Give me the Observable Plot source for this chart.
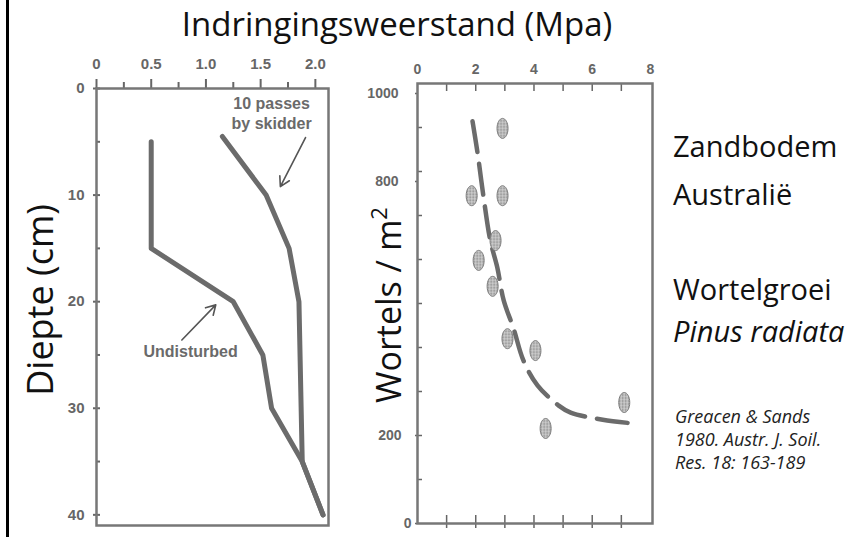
<!DOCTYPE html>
<html><head><meta charset="utf-8">
<script src="https://cdn.jsdelivr.net/npm/d3@7"></script>
<script src="https://cdn.jsdelivr.net/npm/@observablehq/plot@0.6"></script>
<style>
html,body{margin:0;padding:0;background:#fff;}
#wrap{position:relative;width:861px;height:537px;overflow:hidden;background:#fff;}
#wrap > svg{position:absolute;top:0;}
</style></head><body><div id="wrap"></div>
<script>
// ---- Left panel data: penetration resistance (MPa) vs depth (cm)
const undisturbedDepth = [5, 15, 20, 25, 30, 35, 40];
const undisturbedMpa   = [0.5, 0.5, 1.25, 1.52, 1.6, 1.88, 2.07];
const skidderDepth = [4.5, 10, 15, 20, 25, 30, 35, 40];
const skidderMpa   = [1.15, 1.55, 1.76, 1.85, 1.86, 1.87, 1.88, 2.07];
const leftXTicks = [0, 0.5, 1.0, 1.5, 2.0];
const leftXMinor = [0.25, 0.75, 1.25, 1.75];
const leftYTicks = [0, 10, 20, 30, 40];
const leftYAll   = [0, 5, 10, 15, 20, 25, 30, 35, 40];
const noteText = ["10 passes\nby skidder", "Undisturbed"];
const noteMpa  = [1.6, 0.86];
const noteDepth = [2.3, 24.6];
const arrowFromMpa = [1.91, 0.78], arrowFromDepth = [4.6, 23.6];
const arrowToMpa   = [1.68, 1.09], arrowToDepth   = [9.2, 20.3];

// ---- Right panel data: roots per m2 vs penetration resistance
const rootMpa   = [2.92, 1.86, 2.92, 2.68, 2.1, 2.58, 3.09, 4.05, 7.1, 4.4];
const rootCount = [898, 745, 745, 643, 598, 539, 420, 393, 275, 216];
const fitMpa   = [1.89, 2.06, 2.27, 2.5, 2.74, 2.96, 3.3, 3.64, 4.12, 4.85, 5.26, 6.36, 7.46];
const fitCount = [914, 843, 741, 643, 582, 507, 443, 370, 314, 268, 252, 236, 227];
const rightXTicks = [0, 2, 4, 6, 8];
const rightXMinor = [1, 2, 3, 4, 5, 6, 7];
const rightYLabelsHigh = [800, 1000];
const rightYLabelsMid  = [200];
const rightYLabelsZero = [0];
const rightYAll = [100, 200, 300, 400, 500, 600, 700, 800, 900];

// ---- Texts
const titleText = "Indringingsweerstand (Mpa)";
const leftYTitle = "Diepte (cm)";
const rightYTitle = "Wortels / m";
const sideLines = ["Zandbodem", "Australië", "Wortelgroei", "Pinus radiata"];
const citeLines = ["Greacen & Sands", "1980. Austr. J. Soil.", "Res. 18: 163-189"];

const wrap = document.getElementById("wrap");
const grey = "#6b6b6b", axisGrey = "#777";
const fam = "'Liberation Sans', Arial, sans-serif";
const baseStyle = {fontFamily: fam, fontWeight: "bold", background: "transparent", overflow: "visible"};
const ax = (o) => ({color: "#666", label: null, ...o});

function styleTickText(svg, size) {
  d3.select(svg).selectAll("text").each(function() {
    const g = this.closest("g[aria-label]");
    if (g && /tick label/.test(g.getAttribute("aria-label"))) {
      this.style.fontSize = size + "px";
      this.style.fontWeight = "bold";
      this.style.fontFamily = fam;
    }
  });
}

const zipL = (ys, xs) => ys.map((d, i) => ({depth: d, mpa: xs[i]}));
const notes = noteText.map((t, i) => ({t, x: noteMpa[i], y: noteDepth[i]}));
const arrows = arrowFromMpa.map((d, i) => ({x1: d, y1: arrowFromDepth[i], x2: arrowToMpa[i], y2: arrowToDepth[i]}));

const left = Plot.plot({
  width: 340, height: 537,
  marginLeft: 96, marginRight: 12, marginTop: 88, marginBottom: 12,
  style: baseStyle,
  x: {domain: [0, 2.12]},
  y: {domain: [0, 41], reverse: true},
  marks: [
    Plot.axisX(ax({anchor: "top", ticks: leftXTicks, tickFormat: d => d === 0 ? "0" : d.toFixed(1), tickSize: 10, tickPadding: 10, strokeWidth: 2})),
    Plot.axisX(ax({anchor: "top", ticks: leftXMinor, tickFormat: () => "", tickSize: 7, strokeWidth: 2})),
    Plot.axisY(ax({anchor: "left", ticks: leftYTicks, tickSize: 3, tickPadding: 9, strokeWidth: 2})),
    Plot.tickY(leftYAll, {y: d => d, insetRight: 228, stroke: "#666", strokeWidth: 2}),
    Plot.frame({stroke: axisGrey, strokeWidth: 2.5}),
    Plot.line(zipL(undisturbedDepth, undisturbedMpa), {x: "mpa", y: "depth", stroke: grey, strokeWidth: 5}),
    Plot.line(zipL(skidderDepth, skidderMpa), {x: "mpa", y: "depth", stroke: grey, strokeWidth: 5}),
    Plot.text(notes, {x: "x", y: "y", text: "t", fill: "#6a6a6a", fontSize: 16, fontWeight: "bold", lineHeight: 1.25}),
    Plot.arrow(arrows, {x1: "x1", y1: "y1", x2: "x2", y2: "y2", stroke: "#555", strokeWidth: 1.6, headLength: 10})
  ]
});
styleTickText(left, 15);
left.style.left = "0px";
wrap.appendChild(left);

const ellipse = {
  draw(ctx) {
    const rx = 5.5, ry = 10, k = 0.5523, kx = rx * k, ky = ry * k;
    ctx.moveTo(rx, 0);
    ctx.bezierCurveTo(rx, ky, kx, ry, 0, ry);
    ctx.bezierCurveTo(-kx, ry, -rx, ky, -rx, 0);
    ctx.bezierCurveTo(-rx, -ky, -kx, -ry, 0, -ry);
    ctx.bezierCurveTo(kx, -ry, rx, -ky, rx, 0);
    ctx.closePath();
  }
};
const roots = rootMpa.map((x, i) => ({x, y: rootCount[i]}));
const fit = fitMpa.map((x, i) => ({x, y: fitCount[i]}));

const right = Plot.plot({
  width: 330, height: 537,
  marginLeft: 77, marginRight: 18, marginTop: 83, marginBottom: 14,
  style: baseStyle,
  x: {domain: [0, 8.07]},
  y: {domain: [0, 1000]},
  marks: [
    Plot.axisX(ax({anchor: "top", ticks: rightXTicks, tickSize: 0, tickPadding: 10})),
    Plot.tickX(rightXMinor, {x: d => d, insetBottom: 432, stroke: "#666", strokeWidth: 1.5}),
    Plot.axisX(ax({anchor: "bottom", ticks: rightXMinor, tickFormat: () => "", tickSize: 5, strokeWidth: 1.5})),
    Plot.tickX(rightXMinor, {x: d => d, insetTop: 432, stroke: "#666", strokeWidth: 1.5}),
    Plot.axisY(ax({anchor: "left", ticks: rightYLabelsZero, tickFormat: d3.format("d"), tickSize: 2, tickPadding: 4, strokeWidth: 1.5})),
    Plot.axisY(ax({anchor: "left", ticks: rightYLabelsMid, tickFormat: d3.format("d"), tickSize: 2, tickPadding: 14, strokeWidth: 1.5})),
    Plot.axisY(ax({anchor: "left", ticks: rightYLabelsHigh, tickFormat: d3.format("d"), tickSize: 2, tickPadding: 17, dy: 10, strokeWidth: 1.5})),
    Plot.tickY(rightYAll, {y: d => d, insetRight: 230, stroke: "#666", strokeWidth: 1.5}),
    Plot.frame({stroke: axisGrey, strokeWidth: 2.5}),
    Plot.line(fit, {x: "x", y: "y", curve: "catmull-rom", stroke: grey, strokeWidth: 4.5, strokeDasharray: "31,12"}),
    Plot.dot(roots, {x: "x", y: "y", symbol: ellipse, fill: "url(#dotpat)", stroke: "#7a7a7a", strokeWidth: 1})
  ]
});
styleTickText(right, 14);
const defs = d3.select(right).insert("defs", ":first-child");
const pat = defs.append("pattern").attr("id", "dotpat").attr("width", 3).attr("height", 3).attr("patternUnits", "userSpaceOnUse");
pat.append("rect").attr("width", 3).attr("height", 3).attr("fill", "#cfcfcf");
pat.append("circle").attr("cx", 1.5).attr("cy", 1.5).attr("r", 0.9).attr("fill", "#808080");
right.style.left = "340px";
wrap.appendChild(right);

// ---- Overlay text
const ov = d3.select(wrap).append("svg").attr("width", 861).attr("height", 537)
  .style("left", "0px").style("pointer-events", "none")
  .attr("font-family", "'Open Sans', 'Noto Sans', sans-serif").attr("fill", "#111");
ov.append("rect").attr("x", 6).attr("y", 0).attr("width", 3).attr("height", 537).attr("fill", "#000");
ov.append("text").attr("x", 397).attr("y", 36).attr("text-anchor", "middle").attr("font-size", 33).text(titleText);
ov.append("text").attr("transform", "translate(53,300) rotate(-90)").attr("text-anchor", "middle").attr("font-size", 36).text(leftYTitle);
const wt = ov.append("text").attr("transform", "translate(401,305) rotate(-90)").attr("text-anchor", "middle").attr("font-size", 34);
wt.append("tspan").text(rightYTitle);
wt.append("tspan").attr("dy", -14).attr("font-size", 22).text("2");
const sideY = [157, 205, 300, 342];
sideLines.forEach((t, i) => {
  ov.append("text").attr("x", 673).attr("y", sideY[i]).attr("font-size", 29)
    .attr("font-style", i === 3 ? "italic" : "normal").text(t);
});
const citeY = [423, 446, 469];
citeLines.forEach((t, i) => {
  ov.append("text").attr("x", 675).attr("y", citeY[i]).attr("font-size", 18)
    .attr("font-style", "italic").attr("fill", "#222").text(t);
});
</script></body></html>
